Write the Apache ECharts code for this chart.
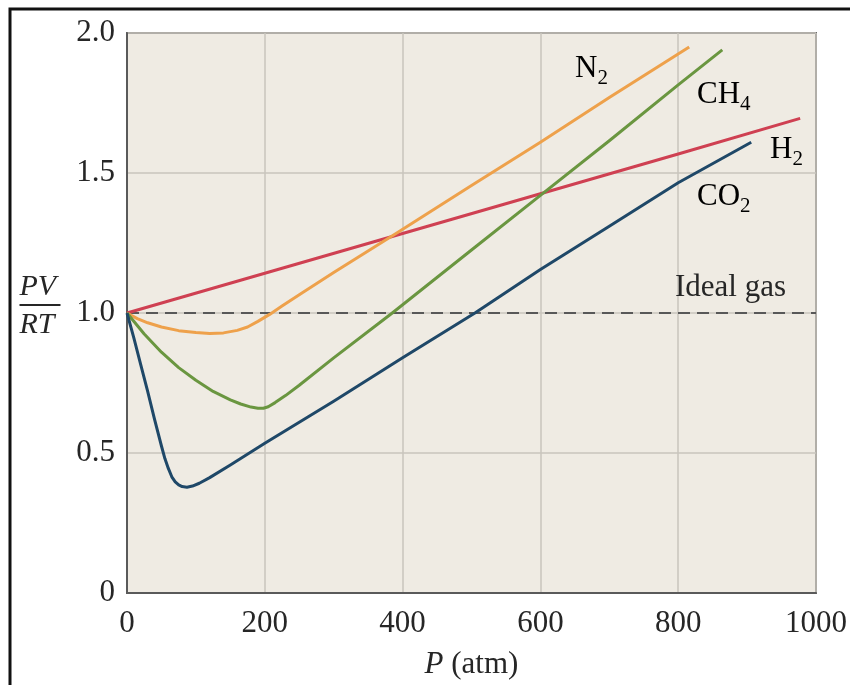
<!DOCTYPE html>
<html>
<head>
<meta charset="utf-8">
<title>PV/RT vs P</title>
<script src="https://cdn.jsdelivr.net/npm/echarts@6/dist/echarts.min.js"></script>
<style>
  html, body { margin: 0; padding: 0; background: #fff; }
  #chart { width: 850px; height: 685px; }
</style>
</head>
<body>
<div id="chart"></div>
<script>
// pressure (atm) and PV/RT
const xTicks = [0, 200, 400, 600, 800, 1000];

const pN2 = [0, 15, 30, 50, 75, 100, 120, 140, 160, 175, 190, 207, 225, 250, 300, 391, 500, 600, 700, 816];
const zN2 = [1.0, 0.98, 0.965, 0.95, 0.937, 0.93, 0.927, 0.929, 0.938, 0.95, 0.97, 0.995, 1.025, 1.065, 1.145, 1.285, 1.455, 1.61, 1.77, 1.95];

const pCH4 = [0, 25, 50, 75, 100, 125, 150, 165, 180, 190, 198, 205, 215, 230, 250, 300, 385, 500, 600, 700, 800, 864];
const zCH4 = [1.0, 0.925, 0.86, 0.805, 0.76, 0.72, 0.69, 0.675, 0.664, 0.66, 0.66, 0.665, 0.68, 0.705, 0.742, 0.84, 1.0, 1.225, 1.42, 1.615, 1.815, 1.94];

const pH2 = [0, 200, 400, 600, 800, 977];
const zH2 = [1.0, 1.142, 1.284, 1.426, 1.568, 1.695];

const pCO2 = [0, 10, 20, 30, 40, 50, 55, 60, 65, 70, 75, 80, 87, 95, 105, 120, 150, 200, 300, 400, 505, 600, 700, 800, 906];
const zCO2 = [1.0, 0.91, 0.815, 0.72, 0.62, 0.525, 0.48, 0.445, 0.415, 0.397, 0.386, 0.38, 0.378, 0.382, 0.392, 0.412, 0.457, 0.535, 0.685, 0.84, 1.0, 1.155, 1.31, 1.465, 1.61];

const pIdeal = [0, 1000];
const zIdeal = [1.0, 1.0];

const serif = 'Liberation Serif';
const ink = '#262626';

const pairs = (xs, ys) => xs.map((x, i) => [x, ys[i]]);

const curve = (name, xs, ys, color) => ({
    name: name,
    type: 'line',
    data: pairs(xs, ys),
    showSymbol: false,
    lineStyle: { color: color, width: 3, join: 'round' },
    z: 3,
});

// gas labels with subscripts
const rich = {
    m: { fontFamily: serif, fontSize: 31, lineHeight: 31, color: ink, verticalAlign: 'top' },
    s: { fontFamily: serif, fontSize: 21, lineHeight: 21, color: ink, verticalAlign: 'top', padding: [15, 0, 0, 0] },
};
const gasLabel = (txt, left, top) => ({
    type: 'text',
    left: left,
    top: top,
    style: { text: txt, rich: rich, align: 'left', verticalAlign: 'top' },
    z: 10,
});

const chart = echarts.init(document.getElementById('chart'), null, { renderer: 'canvas' });

const option = {
    backgroundColor: '#ffffff',
    animation: false,
    grid: {
        left: 127,
        right: 33,
        top: 33,
        bottom: 87,
        show: true,
        backgroundColor: '#efebe3',
        borderColor: '#6b6b6b',
        borderWidth: 2,
    },
    xAxis: {
        type: 'value',
        min: 0,
        max: 1000,
        interval: 200,
        name: '{i|P} (atm)',
        nameLocation: 'middle',
        nameGap: 56,
        nameTextStyle: {
            fontFamily: serif,
            fontSize: 31,
            color: ink,
            rich: { i: { fontFamily: serif, fontSize: 31, fontStyle: 'italic', color: ink } },
        },
        axisLine: { show: true, lineStyle: { color: '#5a5a5a', width: 2 } },
        axisTick: { show: false },
        axisLabel: {
            margin: 15,
            fontFamily: serif,
            fontSize: 31,
            color: ink,
            customValues: xTicks,
            formatter: v => String(v),
        },
        splitLine: { show: true, lineStyle: { color: '#c9c5bc', width: 1.5 } },
    },
    yAxis: {
        type: 'value',
        min: 0,
        max: 2,
        interval: 0.5,
        axisLine: { show: true, lineStyle: { color: '#5a5a5a', width: 2 } },
        axisTick: { show: false },
        axisLabel: {
            margin: 12,
            fontFamily: serif,
            fontSize: 31,
            color: ink,
            padding: [6, 0, 0, 0],
            formatter: v => (v === 0 ? '0' : v.toFixed(1)),
        },
        splitLine: { show: true, lineStyle: { color: '#c9c5bc', width: 1.5 } },
    },
    series: [
        {
            name: 'Ideal gas',
            type: 'line',
            data: pairs(pIdeal, zIdeal),
            showSymbol: false,
            lineStyle: { color: '#585858', width: 2, type: [12, 7] },
            z: 2,
        },
        curve('H2', pH2, zH2, '#cf4052'),
        curve('N2', pN2, zN2, '#eea14b'),
        curve('CH4', pCH4, zCH4, '#6a9640'),
        curve('CO2', pCO2, zCO2, '#1f4868'),
    ],
    graphic: [
        // outer frame (right and bottom edges fall outside the picture)
        {
            type: 'rect',
            shape: { x: 10, y: 9, width: 860, height: 700 },
            style: { fill: 'none', stroke: '#111', lineWidth: 3 },
            silent: true,
        },
        gasLabel('{m|N}{s|2}', 575, 53),
        gasLabel('{m|CH}{s|4}', 697, 79),
        gasLabel('{m|H}{s|2}', 770, 134),
        gasLabel('{m|CO}{s|2}', 697, 181),
        {
            type: 'text',
            left: 675,
            top: 272,
            style: { text: 'Ideal gas', fontFamily: serif, fontSize: 31, fill: ink },
            z: 10,
        },
        // PV / RT axis title
        {
            type: 'group',
            left: 17,
            top: 272,
            children: [
                {
                    type: 'text',
                    x: 0,
                    y: 0,
                    style: { text: 'PV', fontFamily: serif, fontSize: 30, fontStyle: 'italic', fill: ink },
                },
                {
                    type: 'line',
                    shape: { x1: 0, y1: 33, x2: 41, y2: 33 },
                    style: { stroke: ink, lineWidth: 2 },
                },
                {
                    type: 'text',
                    x: 0,
                    y: 38,
                    style: { text: 'RT', fontFamily: serif, fontSize: 30, fontStyle: 'italic', fill: ink },
                },
            ],
        },
    ],
};

chart.setOption(option);
</script>
</body>
</html>
